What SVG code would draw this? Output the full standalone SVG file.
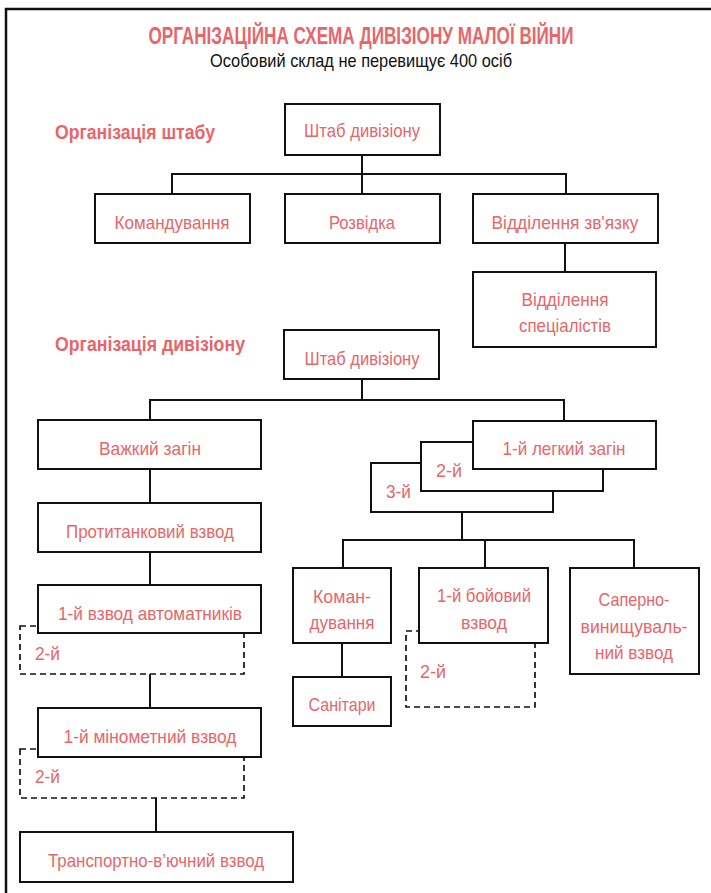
<svg xmlns="http://www.w3.org/2000/svg" width="711" height="893" viewBox="0 0 711 893">
<style>
  .bg{fill:#ffffff}
  .frame{fill:none;stroke:#111;stroke-width:2.5}
  .box{fill:#ffffff;stroke:#111;stroke-width:2}
  .dbox{fill:#ffffff;stroke:#111;stroke-width:1.7;stroke-dasharray:6 4}
  .conn{fill:none;stroke:#111;stroke-width:2}
  .t{font-family:"Liberation Sans",Arial,sans-serif;font-size:19px;fill:#e8666a;text-anchor:middle}
  .ts{font-family:"Liberation Sans",Arial,sans-serif;font-size:19px;fill:#e8666a;text-anchor:start}
  .lbl{font-family:"Liberation Sans",Arial,sans-serif;font-size:20px;font-weight:bold;fill:#e8666a;text-anchor:start}
  .title{font-family:"Liberation Sans",Arial,sans-serif;font-size:23px;font-weight:bold;fill:#e8666a;text-anchor:middle}
  .sub{font-family:"Liberation Sans",Arial,sans-serif;font-size:19px;fill:#111;text-anchor:middle}
</style>
<rect class="bg" x="0" y="0" width="711" height="893"/>
<path class="frame" d="M6 893 V9 H711"/>

<g id="title">
  <text class="title" x="361" y="44" textLength="425" lengthAdjust="spacingAndGlyphs">ОРГАНІЗАЦІЙНА СХЕМА ДИВІЗІОНУ МАЛОЇ ВІЙНИ</text>
  <text class="sub" x="361" y="67" textLength="302" lengthAdjust="spacingAndGlyphs">Особовий склад не перевищує 400 осіб</text>
</g>

<g id="labels">
  <text class="lbl" x="55" y="139" textLength="160" lengthAdjust="spacingAndGlyphs">Організація штабу</text>
  <text class="lbl" x="55" y="351" textLength="190" lengthAdjust="spacingAndGlyphs">Організація дивізіону</text>
</g>

<g id="connectors">
  <path class="conn" d="M362 155 V174"/>
  <path class="conn" d="M172 194 V174 H566 V194"/>
  <path class="conn" d="M362 174 V194"/>
  <path class="conn" d="M565 243 V272"/>
  <path class="conn" d="M362 379 V400"/>
  <path class="conn" d="M150 420 V400 H564 V421"/>
  <path class="conn" d="M150 469 V503"/>
  <path class="conn" d="M150 552 V585"/>
  <path class="conn" d="M150 674 V708"/>
  <path class="conn" d="M156 798 V832"/>
  <path class="conn" d="M462 512 V540"/>
  <path class="conn" d="M343 568 V540 H634 V568"/>
  <path class="conn" d="M485 540 V568"/>
  <path class="conn" d="M342 643 V677"/>
</g>

<g id="n-hq1">
  <rect class="box" x="285" y="104" width="155" height="51"/>
  <text class="t" x="362" y="137" textLength="116" lengthAdjust="spacingAndGlyphs">Штаб дивізіону</text>
</g>
<g id="n-cmd1">
  <rect class="box" x="95" y="194" width="155" height="49"/>
  <text class="t" x="172" y="229" textLength="115" lengthAdjust="spacingAndGlyphs">Командування</text>
</g>
<g id="n-recon">
  <rect class="box" x="285" y="194" width="155" height="49"/>
  <text class="t" x="362" y="229" textLength="66" lengthAdjust="spacingAndGlyphs">Розвідка</text>
</g>
<g id="n-comms">
  <rect class="box" x="473" y="194" width="185" height="49"/>
  <text class="t" x="565" y="229" textLength="147" lengthAdjust="spacingAndGlyphs">Відділення зв'язку</text>
</g>
<g id="n-spec">
  <rect class="box" x="473" y="272" width="183" height="75"/>
  <text class="t" x="565" y="306" textLength="87" lengthAdjust="spacingAndGlyphs">Відділення</text>
  <text class="t" x="565" y="332" textLength="92" lengthAdjust="spacingAndGlyphs">спеціалістів</text>
</g>

<g id="n-hq2">
  <rect class="box" x="284" y="330" width="155" height="49"/>
  <text class="t" x="362" y="365" textLength="115" lengthAdjust="spacingAndGlyphs">Штаб дивізіону</text>
</g>
<g id="n-heavy">
  <rect class="box" x="38" y="420" width="223" height="49"/>
  <text class="t" x="150" y="455" textLength="102" lengthAdjust="spacingAndGlyphs">Важкий загін</text>
</g>
<g id="n-antitank">
  <rect class="box" x="38" y="503" width="223" height="49"/>
  <text class="t" x="150" y="538" textLength="168" lengthAdjust="spacingAndGlyphs">Протитанковий взвод</text>
</g>
<g id="n-smg2">
  <rect class="dbox" x="20" y="626" width="224" height="48"/>
  <text class="ts" x="35" y="660" textLength="25" lengthAdjust="spacingAndGlyphs">2-й</text>
</g>
<g id="n-smg1">
  <rect class="box" x="38" y="585" width="223" height="48"/>
  <text class="t" x="150" y="620" textLength="184" lengthAdjust="spacingAndGlyphs">1-й взвод автоматників</text>
</g>
<g id="n-mortar2">
  <rect class="dbox" x="20" y="749" width="224" height="49"/>
  <text class="ts" x="35" y="783" textLength="25" lengthAdjust="spacingAndGlyphs">2-й</text>
</g>
<g id="n-mortar1">
  <rect class="box" x="38" y="708" width="223" height="49"/>
  <text class="t" x="150" y="743" textLength="173" lengthAdjust="spacingAndGlyphs">1-й мінометний взвод</text>
</g>
<g id="n-transport">
  <rect class="box" x="20" y="832" width="273" height="50"/>
  <text class="t" x="156" y="867" textLength="216" lengthAdjust="spacingAndGlyphs">Транспортно-в’ючний взвод</text>
</g>

<g id="n-light3">
  <rect class="box" x="371" y="463" width="182" height="49"/>
  <text class="ts" x="386" y="498" textLength="25" lengthAdjust="spacingAndGlyphs">3-й</text>
</g>
<g id="n-light2">
  <rect class="box" x="421" y="442" width="182" height="49"/>
  <text class="ts" x="436" y="477" textLength="26" lengthAdjust="spacingAndGlyphs">2-й</text>
</g>
<g id="n-light1">
  <rect class="box" x="473" y="421" width="183" height="48"/>
  <text class="t" x="564" y="455" textLength="123" lengthAdjust="spacingAndGlyphs">1-й легкий загін</text>
</g>
<g id="n-cmd2">
  <rect class="box" x="293" y="568" width="98" height="75"/>
  <text class="t" x="342" y="603" textLength="58" lengthAdjust="spacingAndGlyphs">Коман-</text>
  <text class="t" x="342" y="629" textLength="65" lengthAdjust="spacingAndGlyphs">дування</text>
</g>
<g id="n-medics">
  <rect class="box" x="293" y="677" width="98" height="49"/>
  <text class="t" x="342" y="711" textLength="67" lengthAdjust="spacingAndGlyphs">Санітари</text>
</g>
<g id="n-combat2">
  <rect class="dbox" x="406" y="631" width="129" height="76"/>
  <text class="ts" x="420" y="678" textLength="26" lengthAdjust="spacingAndGlyphs">2-й</text>
</g>
<g id="n-combat1">
  <rect class="box" x="419" y="568" width="129" height="75"/>
  <text class="t" x="484" y="602" textLength="94" lengthAdjust="spacingAndGlyphs">1-й бойовий</text>
  <text class="t" x="484" y="629" textLength="46" lengthAdjust="spacingAndGlyphs">взвод</text>
</g>
<g id="n-sapper">
  <rect class="box" x="570" y="568" width="129" height="106"/>
  <text class="t" x="634" y="606" textLength="71" lengthAdjust="spacingAndGlyphs">Саперно-</text>
  <text class="t" x="634" y="633" textLength="107" lengthAdjust="spacingAndGlyphs">винищуваль-</text>
  <text class="t" x="634" y="659" textLength="78" lengthAdjust="spacingAndGlyphs">ний взвод</text>
</g>
</svg>
